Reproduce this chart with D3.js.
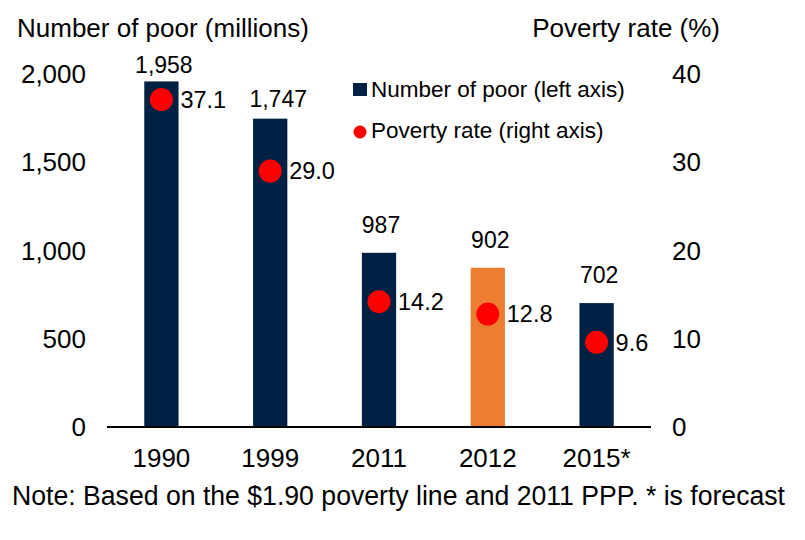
<!DOCTYPE html>
<html>
<head>
<meta charset="utf-8">
<script src="https://cdn.jsdelivr.net/npm/d3@7"></script>
<style>
  body { margin: 0; background: #fff; }
  svg { font-family: "Liberation Sans", Arial, sans-serif; }
</style>
</head>
<body>
<svg width="805" height="540"></svg>
<script>
var years = ["1990", "1999", "2011", "2012", "2015*"];
var poor = [1958, 1747, 987, 902, 702];
var rate = [37.1, 29.0, 14.2, 12.8, 9.6];
var leftTicks = [0, 500, 1000, 1500, 2000];
var rightTicks = [0, 10, 20, 30, 40];

// hand-placed value labels in the original (px offsets)
var labelLift = [8, 12, 20, 20, 20];
var labelShift = [2.5, 8, 2, 2.5, 2.5];

var svg = d3.select("svg");

var navy = "#002144", orange = "#ED7D31", red = "#FF0000";

var x = d3.scaleBand()
    .domain(years)
    .range([107, 651])
    .paddingInner(0.685)
    .paddingOuter(0.3425);

var yLeft = d3.scaleLinear().domain([0, 2000]).range([427, 74]);
var yRight = d3.scaleLinear().domain([0, 40]).range([427, 74]);

var fmt = d3.format(",");

// axis titles
svg.append("text")
    .attr("x", 17).attr("y", 37)
    .attr("font-size", 26)
    .text("Number of poor (millions)");

svg.append("text")
    .attr("x", 720).attr("y", 37)
    .attr("text-anchor", "end")
    .attr("font-size", 26)
    .text("Poverty rate (%)");

// left axis labels (no line)
svg.append("g").selectAll("text")
    .data(leftTicks)
    .enter().append("text")
      .attr("x", 86)
      .attr("y", function(d) { return yLeft(d); })
      .attr("dy", "0.35em")
      .attr("text-anchor", "end")
      .attr("font-size", 26)
      .text(function(d) { return fmt(d); });

// right axis labels
svg.append("g").selectAll("text")
    .data(rightTicks)
    .enter().append("text")
      .attr("x", 672)
      .attr("y", function(d) { return yRight(d); })
      .attr("dy", "0.35em")
      .attr("font-size", 26)
      .text(function(d) { return d; });

// bars
svg.append("g").selectAll("rect")
    .data(years)
    .enter().append("rect")
      .attr("x", function(d) { return x(d); })
      .attr("y", function(d, i) { return yLeft(poor[i]); })
      .attr("width", x.bandwidth())
      .attr("height", function(d, i) { return yLeft(0) - yLeft(poor[i]); })
      .attr("fill", function(d) { return d == "2012" ? orange : navy; });

// bar value labels
svg.append("g").selectAll("text")
    .data(years)
    .enter().append("text")
      .attr("x", function(d, i) { return x(d) + x.bandwidth() / 2 + labelShift[i]; })
      .attr("y", function(d, i) { return yLeft(poor[i]) - labelLift[i]; })
      .attr("text-anchor", "middle")
      .attr("font-size", 23)
      .text(function(d, i) { return fmt(poor[i]); });

// x axis line
svg.append("line")
    .attr("x1", x.range()[0]).attr("x2", x.range()[1])
    .attr("y1", yLeft(0)).attr("y2", yLeft(0))
    .attr("stroke", "#000")
    .attr("stroke-width", 2);

// x labels
svg.append("g").selectAll("text")
    .data(years)
    .enter().append("text")
      .attr("x", function(d) { return x(d) + x.bandwidth() / 2; })
      .attr("y", 467)
      .attr("text-anchor", "middle")
      .attr("font-size", 26)
      .text(function(d) { return d; });

// poverty rate dots
svg.append("g").selectAll("circle")
    .data(years)
    .enter().append("circle")
      .attr("cx", function(d) { return x(d) + x.bandwidth() / 2; })
      .attr("cy", function(d, i) { return yRight(rate[i]); })
      .attr("r", 11.5)
      .attr("fill", red);

svg.append("g").selectAll("text")
    .data(years)
    .enter().append("text")
      .attr("x", function(d) { return x(d) + x.bandwidth() / 2 + 19; })
      .attr("y", function(d, i) { return yRight(rate[i]); })
      .attr("dy", "0.35em")
      .attr("font-size", 23.5)
      .text(function(d, i) { return d3.format(".1f")(rate[i]); });

// legend
var leg = svg.append("g");
leg.append("rect")
    .attr("x", 353).attr("y", 83)
    .attr("width", 14).attr("height", 13)
    .attr("fill", navy);
leg.append("text")
    .attr("x", 371).attr("y", 97)
    .attr("font-size", 22.5)
    .text("Number of poor (left axis)");
leg.append("circle")
    .attr("cx", 360).attr("cy", 132)
    .attr("r", 6.5)
    .attr("fill", red);
leg.append("text")
    .attr("x", 371).attr("y", 138)
    .attr("font-size", 22.5)
    .text("Poverty rate (right axis)");

// note
svg.append("text")
    .attr("x", 12).attr("y", 505)
    .attr("font-size", 27)
    .attr("textLength", 773)
    .attr("lengthAdjust", "spacingAndGlyphs")
    .text("Note: Based on the $1.90 poverty line and 2011 PPP. * is forecast");
</script>
</body>
</html>
